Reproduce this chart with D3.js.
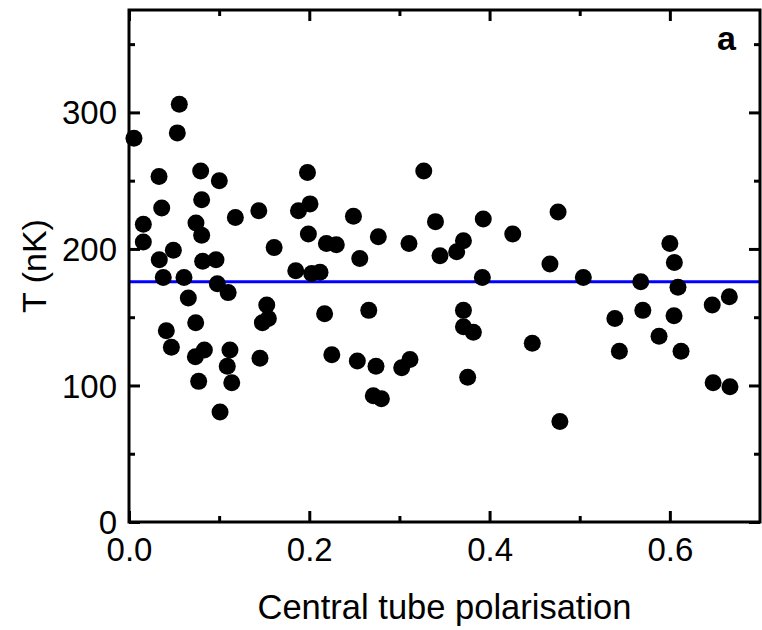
<!DOCTYPE html>
<html>
<head>
<meta charset="utf-8">
<script src="https://cdn.jsdelivr.net/npm/d3@7"></script>
<style>
  body { margin: 0; background: #fff; }
  svg text { font-family: "Liberation Sans", Arial, sans-serif; fill: #000; }
  .panel { font-family: "Liberation Sans", "DejaVu Sans", sans-serif; font-weight: 700; }
</style>
</head>
<body>
<svg id="chart" width="762" height="630"></svg>
<script>
//---------------------DATA-------------------------------------------------------

var polarisation = [0.0055, 0.0536, 0.0558, 0.0333, 0.0795, 0.1002, 0.0363, 0.0806, 0.0159, 0.0159,
  0.0743, 0.0806, 0.118, 0.144, 0.198, 0.2008, 0.188, 0.199, 0.0336, 0.0492,
  0.0817, 0.0965, 0.161, 0.219, 0.230, 0.038, 0.061, 0.185, 0.2027, 0.2119,
  0.098, 0.110, 0.0658, 0.1528, 0.1546, 0.148, 0.217, 0.074, 0.0414, 0.047,
  0.0836, 0.0736, 0.112, 0.109, 0.1453, 0.225, 0.0773, 0.114, 0.101, 0.327,
  0.249, 0.340, 0.393, 0.476, 0.4257, 0.2766, 0.256, 0.3106, 0.345, 0.371,
  0.3635, 0.392, 0.467, 0.266, 0.371, 0.371, 0.382, 0.4474, 0.2533, 0.274,
  0.3117, 0.3025, 0.3757, 0.271, 0.280, 0.478, 0.504, 0.600, 0.605, 0.5677,
  0.609, 0.666, 0.647, 0.539, 0.570, 0.6046, 0.588, 0.544, 0.6124, 0.648, 0.6667];

var temperature = [281, 285, 306, 253, 257, 250, 230, 236, 218, 205,
  219, 210, 223, 228, 256, 233, 228, 211, 192, 199,
  191, 192, 201, 204, 203, 179, 179, 184, 182, 183,
  174.5, 168, 164, 159, 149, 146, 152.5, 146, 140, 128,
  126, 121, 126, 114, 120, 122.5, 103, 102, 80.5, 257,
  224, 220, 222, 227, 211, 209, 193, 204, 195, 206,
  198, 179, 189, 155, 155, 143, 139, 131, 118, 114,
  119, 113, 106, 92.4, 90.2, 73.6, 179, 204, 190, 176,
  172, 165, 159, 149, 155, 151, 136, 125, 125, 102, 99];

var meanT = 176;

var xMajor = [0, 0.2, 0.4, 0.6];
var xMinor = [0.1, 0.3, 0.5];
var yMajor = [0, 100, 200, 300];
var yMinor = [50, 150, 250, 350];

//-------------------------SCALES---------------------------------------

var plotLeft = 129, plotRight = 760, plotTop = 10, plotBottom = 522;

var x = d3.scaleLinear().domain([0, 0.7]).range([plotLeft, plotRight]);
var y = d3.scaleLinear().domain([0, 375]).range([plotBottom, plotTop]);

var svg = d3.select('#chart');

//-------------------------AXES (ticks inside, on all four sides)---------------------------------------

function tickAxis(axisFn, scale, values, size) {
  return axisFn(scale).tickValues(values).tickSizeInner(-size).tickSizeOuter(0).tickFormat('');
}

// minor ticks
svg.append('g').attr('transform', 'translate(0,' + plotBottom + ')')
  .call(tickAxis(d3.axisBottom, x, xMinor, 6));
svg.append('g').attr('transform', 'translate(0,' + plotTop + ')')
  .call(tickAxis(d3.axisTop, x, xMinor, 6));
svg.append('g').attr('transform', 'translate(' + plotLeft + ',0)')
  .call(tickAxis(d3.axisLeft, y, yMinor, 6));
svg.append('g').attr('transform', 'translate(' + plotRight + ',0)')
  .call(tickAxis(d3.axisRight, y, yMinor, 6));

// major ticks
var xAxisBottom = svg.append('g').attr('transform', 'translate(0,' + plotBottom + ')')
  .call(tickAxis(d3.axisBottom, x, xMajor, 11).tickFormat(d3.format('.1f')));
svg.append('g').attr('transform', 'translate(0,' + plotTop + ')')
  .call(tickAxis(d3.axisTop, x, xMajor, 11));
var yAxisLeft = svg.append('g').attr('transform', 'translate(' + plotLeft + ',0)')
  .call(tickAxis(d3.axisLeft, y, yMajor, 11).tickFormat(d3.format('d')));
svg.append('g').attr('transform', 'translate(' + plotRight + ',0)')
  .call(tickAxis(d3.axisRight, y, yMajor, 11));

svg.selectAll('.domain').remove();
svg.selectAll('.tick line').attr('stroke', '#000').attr('stroke-width', 3);
svg.selectAll('.tick text').attr('font-size', 33).attr('font-family', '"Liberation Sans", Arial, sans-serif').attr('fill', '#000');
xAxisBottom.selectAll('.tick text').attr('dy', 0).attr('y', 39);
yAxisLeft.selectAll('.tick text').attr('dy', '0.35em').attr('x', -12);

//-------------------------MEAN LINE + POINTS---------------------------------------

svg.append('line')
  .attr('x1', plotLeft).attr('x2', plotRight)
  .attr('y1', y(meanT)).attr('y2', y(meanT))
  .attr('stroke', '#0000ff').attr('stroke-width', 3);

svg.append('g').selectAll('circle')
  .data(d3.range(polarisation.length))
  .enter()
  .append('circle')
  .attr('cx', (i) => x(polarisation[i]))
  .attr('cy', (i) => y(temperature[i]))
  .attr('r', 8.5)
  .attr('fill', '#000');

// frame drawn last so it sits on top
svg.append('rect')
  .attr('x', plotLeft).attr('y', plotTop)
  .attr('width', plotRight - plotLeft).attr('height', plotBottom - plotTop)
  .attr('fill', 'none').attr('stroke', '#000').attr('stroke-width', 3);

//-------------------------LABELS---------------------------------------

svg.append('text')
  .attr('x', (plotLeft + plotRight) / 2).attr('y', 619)
  .attr('text-anchor', 'middle').attr('font-size', 34.5)
  .text('Central tube polarisation');

svg.append('text')
  .attr('transform', 'translate(46,' + (plotTop + plotBottom) / 2 + ') rotate(-90)')
  .attr('text-anchor', 'middle').attr('font-size', 34)
  .text('T (nK)');

svg.append('text')
  .attr('class', 'panel')
  .attr('x', 736).attr('y', 50)
  .attr('text-anchor', 'end').attr('font-size', 34)
  .text('a');
</script>
</body>
</html>
